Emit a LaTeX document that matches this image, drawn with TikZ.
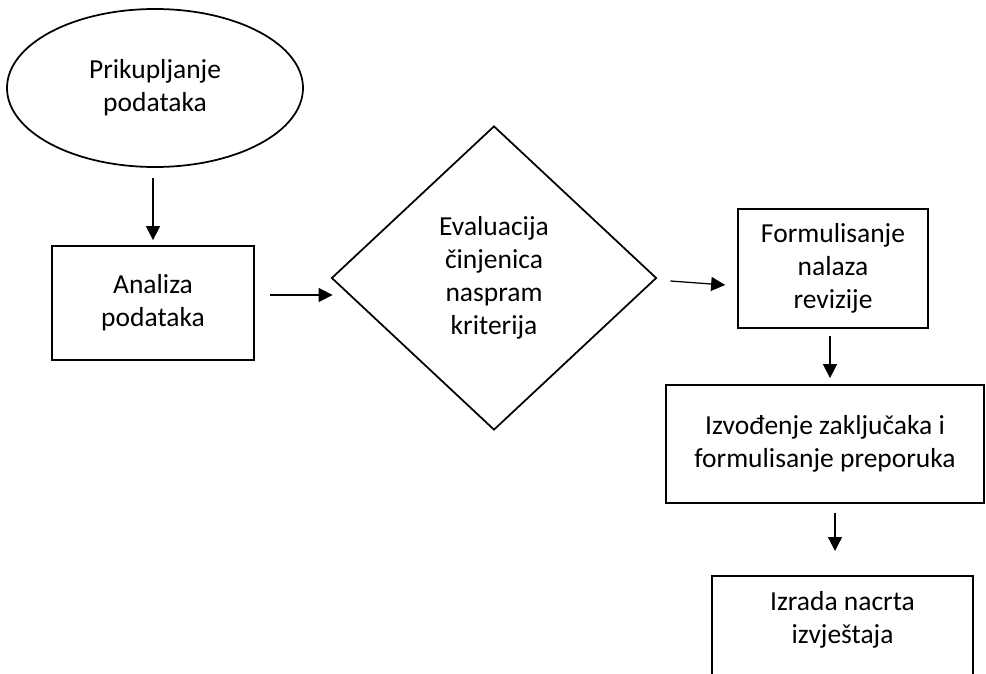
\documentclass[tikz,border=0pt]{standalone}
\usepackage{fontspec}
\setmainfont{Carlito}
\usetikzlibrary{shapes.geometric}
\usetikzlibrary{arrows.meta}

\begin{document}
\begin{tikzpicture}[x=0.4pt, y=-0.4pt,
every node/.style={font=\fontsize{11}{13.2}\selectfont, align=center, inner sep=0pt},
oval/.style={draw, line width=0.7pt, ellipse, minimum width=118.4pt, minimum height=63.2pt},
box/.style={draw, line width=0.7pt, rectangle},
decision/.style={draw, line width=0.7pt, diamond, minimum width=130pt, minimum height=121.6pt},
arr/.style={line width=0.5pt, -{Triangle[length=5.6pt,width=5.6pt]}}]
\useasboundingbox (0,0) rectangle (986,673);
\node[oval] (prik) at (155,88) {Prikupljanje\\podataka};
\node[box, minimum width=80.8pt, minimum height=45.6pt] (anal) at (153,303) {Analiza\\podataka};
\node[decision] (eval) at (494,278) {Evaluacija\\činjenica\\naspram\\kriterija};
\node[box, minimum width=76pt, minimum height=47.6pt] (form) at (833,268.5) {Formulisanje\\nalaza\\revizije};
\node[box, minimum width=127.2pt, minimum height=47.2pt] (izv) at (825,444) {Izvođenje zaključaka i\\formulisanje preporuka};
\node[box, minimum width=104.4pt, minimum height=48pt, anchor=north,
label={[anchor=north, yshift=-6.5pt]north:Izrada nacrta\\izvještaja}] (izr) at (842.5,575) {};
\draw[arr] ([shift={(-2,10)}]prik.south) -- ([shift={(0,-5)}]anal.north);
\draw[arr] ([shift={(15,-8)}]anal.east) -- ([shift={(2,17)}]eval.west);
\draw[arr] ([shift={(13,3)}]eval.east) -- ([shift={(-12,16.5)}]form.west);
\draw[arr] ([shift={(-3,7)}]form.south) -- ([shift={(5,-6)}]izv.north);
\draw[arr] ([shift={(10,9)}]izv.south) -- ([shift={(-7.5,-24)}]izr.north);
\end{tikzpicture}
\end{document}
